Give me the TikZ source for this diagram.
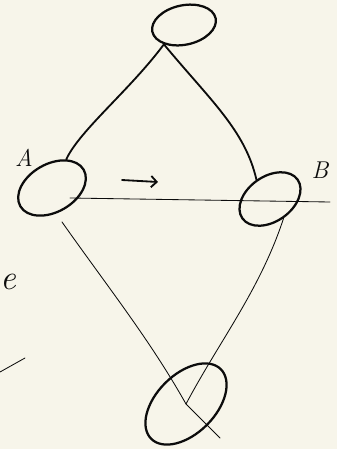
\documentclass[tikz,border=0pt]{standalone}
\usepackage{tikz}
\usetikzlibrary{shapes.geometric, arrows.meta, positioning, calc}
\definecolor{paper}{RGB}{247,245,234}
\definecolor{ink}{RGB}{12,12,12}
\tikzset{
  vertex/.style={
    ellipse, draw=ink, line width=1.6pt, inner sep=0pt
  },
  thickedge/.style={draw=ink, line width=1.3pt, line cap=round},
  thinedge/.style={draw=ink, line width=0.6pt, line cap=round},
  marker/.style={font=\LARGE\itshape, text=ink}
}

\begin{document}
\begin{tikzpicture}[x=0.025cm, y=-0.025cm]
  % Paper
  \fill[paper] (0,0) rectangle (337,449);
  \useasboundingbox (0,0) rectangle (337,449);

  % Vertices
  \node[vertex, minimum width=46, minimum height=28, rotate=12] (top) at (184,25) {};
  \node[vertex, minimum width=52, minimum height=34, rotate=30] (a) at (52,188) {};
  \node[vertex, minimum width=48, minimum height=32, rotate=35] (b) at (270,199) {};
  \node[vertex, minimum width=70, minimum height=42, rotate=45] (c) at (186,404) {};

  % Labels
  \node[marker] (la) at (24,158) {A};
  \node[marker] (lb) at (320,170) {B};
  \node[font=\Huge\itshape, text=ink] (le) at (8,282) {e};

  % Edges
  \coordinate (aout) at ($(a.center)+(18,10)$);
  \coordinate (tail) at (330,202);
  \draw[thickedge] (top.south west) .. controls (130,90) and (80,130) .. (a.north east);
  \draw[thickedge] (top.south west) .. controls (210,100) and (245,130) .. (b.north);
  \draw[thinedge] (aout) -- (tail);
  \draw[thinedge] (62,222) .. controls (110,290) and (150,340) .. (c.center)
    -- ++(34,34);
  \draw[thinedge] (b.south) .. controls (260,290) and (220,340) .. (c.center);

  % Direction arrow
  \coordinate (ar1) at (122,180);
  \coordinate (ar2) at (158,182);
  \draw[thickedge, -{Straight Barb[length=4pt]}] (ar1) -- (ar2);

  % Stray stroke
  \coordinate (s1) at (0,372);
  \coordinate (s2) at (25,358);
  \draw[thinedge] (s1) -- (s2);
\end{tikzpicture}
\end{document}
